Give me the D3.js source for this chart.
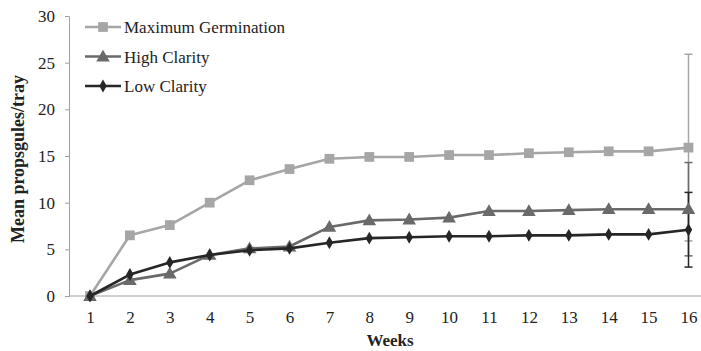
<!DOCTYPE html>
<html>
<head>
<meta charset="utf-8">
<script src="https://cdn.jsdelivr.net/npm/d3@7/dist/d3.min.js"></script>
<style>
  html, body { margin: 0; padding: 0; background: #fff; }
  svg { display: block; }
  text { font-family: "Liberation Serif", "Times New Roman", serif; fill: #222; }
</style>
</head>
<body>
<svg id="chart" width="701" height="351"></svg>
<script>
// Weekly propagule counts per tray
const weeks = ["1","2","3","4","5","6","7","8","9","10","11","12","13","14","15","16"];
const maxGermination = [0, 6.5, 7.6, 10.0, 12.4, 13.6, 14.7, 14.9, 14.9, 15.1, 15.1, 15.3, 15.4, 15.5, 15.5, 15.9];
const highClarity    = [0, 1.7, 2.4, 4.4, 5.1, 5.3, 7.4, 8.1, 8.2, 8.4, 9.1, 9.1, 9.2, 9.3, 9.3, 9.3];
const lowClarity     = [0, 2.3, 3.6, 4.4, 4.9, 5.1, 5.7, 6.2, 6.3, 6.4, 6.4, 6.5, 6.5, 6.6, 6.6, 7.1];
// Error (± value) shown on the final week
const finalError = [10.0, 5.0, 4.0];
const yTicks = [0, 5, 10, 15, 20, 25, 30];

const series = [
  { name: "Maximum Germination", values: maxGermination, err: finalError[0], color: "#a6a6a6", marker: "square" },
  { name: "High Clarity",        values: highClarity,    err: finalError[1], color: "#6a6a6a", marker: "triangle" },
  { name: "Low Clarity",         values: lowClarity,     err: finalError[2], color: "#262626", marker: "diamond" }
];

const svg = d3.select("#chart");
const W = 701, H = 351;
const margin = { left: 69, top: 16, bottom: 55 };

const x = d3.scalePoint().domain(weeks).range([90, 688.5]);
const y = d3.scaleLinear().domain([0, 30]).range([H - margin.bottom, margin.top]);

const axisColor = "#a0a0a0";
const fontFamily = "'Liberation Serif', 'Times New Roman', serif";

// Y axis
const yAxis = svg.append("g")
  .attr("transform", `translate(${margin.left},0)`)
  .call(d3.axisLeft(y).tickValues(yTicks).tickSize(4).tickPadding(10));
yAxis.select(".domain").attr("stroke", axisColor);
yAxis.selectAll(".tick line").attr("stroke", axisColor);
yAxis.selectAll(".tick text").style("font-size", "17px").attr("fill", "#222")
  .style("font-family", fontFamily);

// X axis (baseline only, category labels below)
const xAxis = svg.append("g")
  .attr("transform", `translate(0,${y(0)})`)
  .call(d3.axisBottom(x).tickSize(0).tickPadding(15));
xAxis.select(".domain").attr("d", `M${margin.left},0H${W}`).attr("stroke", axisColor);
xAxis.selectAll(".tick text").style("font-size", "17px").attr("fill", "#222")
  .style("font-family", fontFamily);

// Axis titles
svg.append("text")
  .attr("x", 390).attr("y", 346)
  .attr("text-anchor", "middle")
  .style("font-size", "17px").style("font-weight", "bold")
  .text("Weeks");
svg.append("text")
  .attr("transform", `translate(24,${(y(0) + y(30)) / 2 + 3}) rotate(-90)`)
  .attr("text-anchor", "middle")
  .style("font-size", "18px").style("font-weight", "bold")
  .text("Mean propsgules/tray");

// Error bars at the last week
const last = weeks[weeks.length - 1];
series.forEach(s => {
  const v = s.values[s.values.length - 1];
  const g = svg.append("g").attr("stroke", s.color).attr("stroke-width", 1.5);
  g.append("line").attr("x1", x(last)).attr("x2", x(last)).attr("y1", y(v + s.err)).attr("y2", y(v - s.err));
  [v + s.err, v - s.err].forEach(e => {
    g.append("line").attr("x1", x(last) - 4).attr("x2", x(last) + 4).attr("y1", y(e)).attr("y2", y(e));
  });
});

const symbolFor = {
  square: d3.symbol().type(d3.symbolSquare).size(95),
  triangle: d3.symbol().type(d3.symbolTriangle).size(80),
  diamond: d3.symbol().type(d3.symbolDiamond).size(48)
};

const line = d3.line().x((d, i) => x(weeks[i])).y(d => y(d));

series.forEach(s => {
  svg.append("path")
    .datum(s.values)
    .attr("fill", "none")
    .attr("stroke", s.color)
    .attr("stroke-width", 2.6)
    .attr("stroke-linejoin", "round")
    .attr("d", line);
  svg.append("g").selectAll("path")
    .data(s.values)
    .join("path")
    .attr("transform", (d, i) => `translate(${x(weeks[i])},${y(d) + (s.marker === "triangle" ? 1 : 0)})`)
    .attr("d", symbolFor[s.marker])
    .attr("fill", s.color);
});

// Legend
const legend = svg.append("g");
series.forEach((s, i) => {
  const ly = 27 + i * 29.5;
  legend.append("line")
    .attr("x1", 85).attr("x2", 121).attr("y1", ly).attr("y2", ly)
    .attr("stroke", s.color).attr("stroke-width", 2.6);
  legend.append("path")
    .attr("transform", `translate(103,${ly + (s.marker === "triangle" ? 1 : 0)})`)
    .attr("d", symbolFor[s.marker])
    .attr("fill", s.color);
  legend.append("text")
    .attr("x", 124).attr("y", ly + 6)
    .style("font-size", "17px")
    .text(s.name);
});
</script>
</body>
</html>
